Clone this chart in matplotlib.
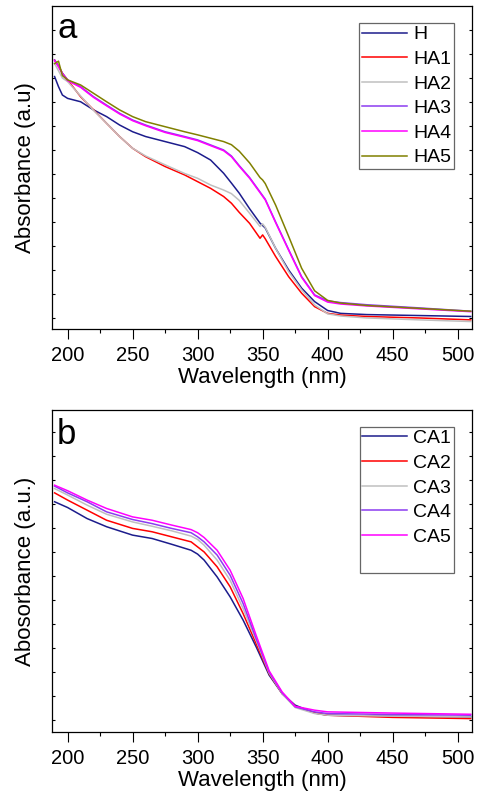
import matplotlib
matplotlib.use('Agg')
import matplotlib.pyplot as plt
from matplotlib.lines import Line2D

plt.rcParams['font.family'] = ['Liberation Sans', 'DejaVu Sans']

# panel a: UV-vis spectra (arbitrary absorbance units)
wl_a = [190, 193, 196, 200, 210, 220, 230, 240, 250, 260, 275, 290, 300, 310, 320,
        326, 332, 340, 348, 350, 352, 360, 370, 380, 390, 400, 410, 430, 470, 510]
H   = [10.06, 9.64, 9.29, 9.15, 9.01, 8.67, 8.39, 8.04, 7.76, 7.56, 7.35, 7.14, 6.89, 6.58, 6.03,
       5.62, 5.20, 4.55, 3.95, 3.85, 3.75, 2.90, 2.00, 1.24, 0.68, 0.31, 0.19, 0.14, 0.10, 0.06]
HA1 = [10.75, 10.5, 10.2, 9.92, 9.22, 8.67, 8.11, 7.56, 7.07, 6.72, 6.31, 5.96, 5.68, 5.40, 5.06,
       4.78, 4.40, 3.94, 3.32, 3.46, 3.30, 2.56, 1.72, 1.03, 0.47, 0.19, 0.12, 0.06, 0.00, -0.08]
HA2 = [10.6, 10.3, 10.0, 9.85, 9.25, 8.65, 8.11, 7.56, 7.07, 6.75, 6.38, 6.02, 5.82, 5.54, 5.33,
       5.18, 4.90, 4.36, 3.81, 3.92, 3.78, 2.90, 1.93, 1.17, 0.54, 0.17, 0.08, 0.00, -0.08, -0.15]
HA3 = [10.75, 10.5, 10.2, 9.92, 9.64, 9.22, 8.87, 8.53, 8.25, 8.04, 7.76, 7.56, 7.42, 7.21, 7.00,
       6.75, 6.35, 5.85, 5.25, 5.10, 4.95, 4.00, 2.85, 1.72, 0.96, 0.71, 0.64, 0.55, 0.42, 0.28]
HA4 = [10.72, 10.47, 10.17, 9.89, 9.61, 9.19, 8.84, 8.50, 8.22, 8.01, 7.73, 7.53, 7.39, 7.18, 6.97,
       6.72, 6.32, 5.82, 5.22, 5.07, 4.92, 3.97, 2.82, 1.69, 0.93, 0.66, 0.58, 0.50, 0.38, 0.26]
HA5 = [10.6, 10.7, 10.1, 9.92, 9.71, 9.36, 9.01, 8.67, 8.39, 8.18, 7.97, 7.76, 7.63, 7.49, 7.35,
       7.22, 6.95, 6.46, 5.85, 5.75, 5.60, 4.70, 3.40, 2.07, 1.13, 0.73, 0.62, 0.52, 0.40, 0.28]

# panel b
wl_b = [190, 200, 215, 230, 250, 265, 280, 295, 300, 305, 315, 325, 335, 345, 355,
        365, 375, 390, 400, 450, 510]
CA1 = [9.10, 8.86, 8.40, 8.06, 7.71, 7.57, 7.33, 7.08, 6.92, 6.67, 5.97, 5.14, 4.17, 3.06, 1.88,
       1.11, 0.63, 0.30, 0.21, 0.17, 0.14]
CA2 = [9.47, 9.17, 8.75, 8.33, 7.99, 7.85, 7.64, 7.43, 7.22, 7.01, 6.39, 5.56, 4.44, 3.19, 1.94,
       1.11, 0.58, 0.31, 0.21, 0.12, 0.07]
CA3 = [9.65, 9.38, 8.96, 8.58, 8.26, 8.08, 7.89, 7.67, 7.53, 7.29, 6.67, 5.83, 4.65, 3.33, 1.97,
       1.11, 0.53, 0.28, 0.21, 0.17, 0.14]
CA4 = [9.75, 9.47, 9.10, 8.68, 8.36, 8.19, 7.99, 7.81, 7.64, 7.43, 6.88, 6.04, 4.86, 3.40, 2.01,
       1.14, 0.56, 0.35, 0.28, 0.24, 0.21]
CA5 = [9.79, 9.56, 9.17, 8.82, 8.47, 8.33, 8.13, 7.94, 7.81, 7.61, 7.08, 6.25, 5.07, 3.54, 2.06,
       1.18, 0.58, 0.42, 0.35, 0.30, 0.25]

series_a = [('H', H, '#1c1c8c'), ('HA1', HA1, '#ff0000'), ('HA2', HA2, '#c0c0c0'),
            ('HA3', HA3, '#8b3cf0'), ('HA4', HA4, '#ff00ff'), ('HA5', HA5, '#808000')]
series_b = [('CA1', CA1, '#1c1c8c'), ('CA2', CA2, '#ff0000'), ('CA3', CA3, '#c0c0c0'),
            ('CA4', CA4, '#8b3cf0'), ('CA5', CA5, '#ff00ff')]

fig = plt.figure(figsize=(4.8, 8.01), dpi=100)
ax_a = fig.add_axes([0.1083, 0.5893, 0.875, 0.4032])
ax_b = fig.add_axes([0.1083, 0.0861, 0.875, 0.4020])


def style(ax, ylab, tag, ylim, tag_y, blank_rows):
    ax.set_xlim(188, 511)
    ax.set_ylim(*ylim)
    ax.set_xticks([200, 250, 300, 350, 400, 450, 500])
    ax.set_xticks([225, 275, 325, 375, 425, 475], minor=True)
    ax.set_yticks(range(0, 13))
    ax.set_yticklabels([])
    ax.tick_params(axis='x', which='major', direction='out', length=7, width=0.8,
                   labelsize=14.5, pad=5)
    ax.tick_params(axis='x', which='minor', direction='out', length=3, width=0.8)
    ax.tick_params(axis='y', which='major', direction='in', length=2, width=0.8,
                   left=True, right=True)
    for s in ax.spines.values():
        s.set_linewidth(0.9)
    ax.set_xlabel('Wavelength (nm)', fontsize=16, labelpad=1.5)
    ax.set_ylabel(ylab, fontsize=16, labelpad=8)
    ax.text(0.012, tag_y, tag, transform=ax.transAxes, fontsize=25, va='baseline')
    handles, labels = ax.get_legend_handles_labels()
    for _ in range(blank_rows):
        handles.append(Line2D([], [], color='none'))
        labels.append(' ')
    leg = ax.legend(handles, labels, loc='upper right', bbox_to_anchor=(0.957, 0.948),
                    borderaxespad=0, fontsize=14, frameon=True, fancybox=False,
                    handlelength=2.3, handletextpad=0.3, labelspacing=0.36,
                    borderpad=0.15)
    leg.get_frame().set_edgecolor('#404040')
    leg.get_frame().set_linewidth(0.9)


for name, vals, col in series_a:
    ax_a.plot(wl_a, vals, color=col, lw=1.1, label=name)
style(ax_a, 'Absorbance (a.u)', 'a', (-0.46, 13.0), 0.90, 0)

for name, vals, col in series_b:
    ax_b.plot(wl_b, vals, color=col, lw=1.1, label=name)
style(ax_b, 'Abosorbance (a.u.)', 'b', (-0.49, 12.92), 0.894, 1)

fig.savefig('out.png', dpi=100)
